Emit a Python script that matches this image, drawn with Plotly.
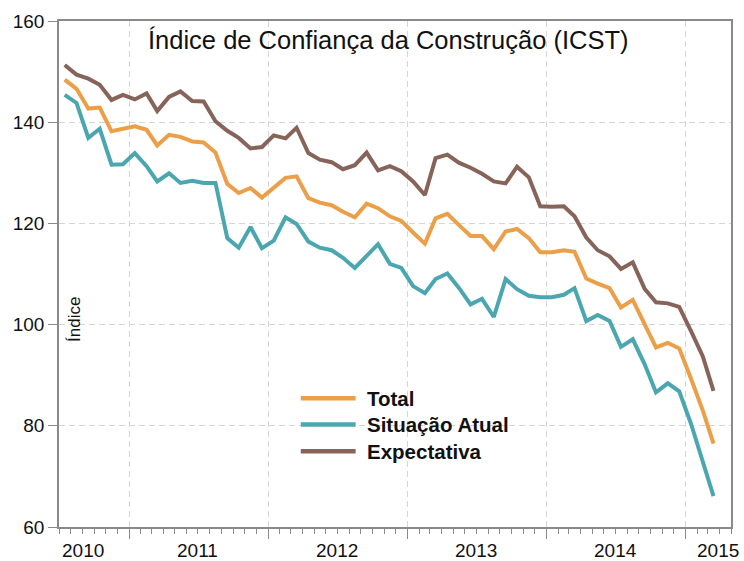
import pandas as pd
import plotly.graph_objects as go

# Monthly series, Jul 2010 .. Mar 2015
start_month = "2010-07-01"
n_months = 57

total = [148.4, 146.6, 142.7, 142.9, 138.2, 138.7, 139.2, 138.5, 135.4, 137.5,
         137.1, 136.2, 136.0, 134.0, 127.8, 126.0, 127.0, 125.1, 127.0, 129.0,
         129.3, 125.0, 124.1, 123.6, 122.3, 121.2, 123.9, 123.0, 121.4, 120.5,
         118.2, 116.0, 121.0, 121.9, 119.7, 117.5, 117.5, 114.9, 118.4, 118.9,
         117.1, 114.3, 114.3, 114.7, 114.4, 109.1, 108.1, 107.2, 103.4, 104.9,
         100.1, 95.5, 96.4, 95.3, 89.3, 83.0, 76.5]

situacao = [145.4, 143.8, 136.9, 138.7, 131.6, 131.7, 133.9, 131.3, 128.3, 129.9,
            128.0, 128.4, 128.0, 128.0, 117.1, 115.2, 119.3, 115.1, 116.6, 121.2,
            119.9, 116.4, 115.2, 114.7, 113.2, 111.2, 113.6, 115.9, 112.0, 111.2,
            107.6, 106.2, 109.0, 110.1, 107.3, 104.0, 105.1, 101.5, 109.0, 107.0,
            105.7, 105.4, 105.4, 105.9, 107.2, 100.7, 101.9, 100.7, 95.6, 97.1,
            92.2, 86.6, 88.4, 86.8, 80.4, 72.6, 66.1]

expectativa = [151.3, 149.4, 148.6, 147.4, 144.4, 145.4, 144.5, 145.7, 142.2, 145.0,
               146.1, 144.2, 144.1, 140.2, 138.3, 136.9, 134.8, 135.1, 137.4, 136.8,
               138.9, 133.9, 132.6, 132.1, 130.7, 131.5, 134.0, 130.5, 131.3, 130.3,
               128.3, 125.6, 132.9, 133.6, 132.0, 131.0, 129.8, 128.3, 127.9, 131.2,
               129.1, 123.4, 123.3, 123.4, 121.4, 117.2, 114.7, 113.5, 111.0, 112.3,
               107.1, 104.4, 104.2, 103.5, 98.7, 93.7, 86.9]

series_names = ["Total", "Situação Atual", "Expectativa"]
series_colors = ["#EB9F48", "#4BA7AF", "#87645A"]

year_labels = ["2010", "2011", "2012", "2013", "2014", "2015"]
year_label_pos = ["2010-09-02", "2011-07-01", "2012-07-01", "2013-07-01", "2014-07-01", "2015-03-27"]
year_bounds = ["2011-01-01", "2012-01-01", "2013-01-01", "2014-01-01", "2015-01-01"]

title_text = "Índice de Confiança da Construção (ICST)"
y_title = "Índice"

months = pd.date_range(start_month, periods=n_months, freq="MS") + pd.Timedelta(days=15)

FONT = "Arial, Liberation Sans, sans-serif"
fig = go.Figure()
for name, vals, col in zip(series_names, [total, situacao, expectativa], series_colors):
    fig.add_trace(go.Scatter(x=months, y=vals, mode="lines", name=name,
                             line=dict(color=col, width=4), showlegend=False))

grid = "#d6d6d6"
frame = "#8a8a8a"
fig.update_layout(
    width=744, height=561,
    margin=dict(l=59, r=11, t=19, b=34),
    paper_bgcolor="white", plot_bgcolor="white",
    font=dict(family=FONT, color="#111111"),
)
fig.update_xaxes(
    range=["2010-07-01", "2015-05-01"], type="date",
    tickmode="array", tickvals=year_bounds, showticklabels=False,
    ticks="outside", ticklen=10, tickcolor=frame, tickwidth=1,
    showgrid=True, gridcolor=grid, griddash="6px,4px", gridwidth=1,
    showline=True, linecolor=frame, linewidth=1.5, mirror=True,
    minor=dict(dtick="M1", tick0="2010-01-01", ticks="outside", ticklen=5,
               tickcolor=frame, showgrid=False),
    zeroline=False,
)
fig.update_yaxes(
    range=[60, 160], dtick=20, tick0=60,
    ticks="outside", ticklen=9, tickcolor=frame,
    tickfont=dict(size=19, family=FONT, color="#111111"),
    showgrid=True, gridcolor=grid, griddash="6px,4px", gridwidth=1,
    showline=True, linecolor=frame, linewidth=1.5, mirror=True,
    zeroline=False,
)

# year labels
for lab, pos in zip(year_labels, year_label_pos):
    fig.add_annotation(x=pos, xref="x", y=-0.046, yref="paper", text=lab,
                       showarrow=False, xanchor="center", yanchor="middle",
                       font=dict(size=19, family=FONT, color="#111111"))

# title inside plot
fig.add_annotation(x=0.491, y=0.963, xref="paper", yref="paper", text=title_text,
                   showarrow=False, xanchor="center", yanchor="middle",
                   font=dict(size=25.5, family=FONT, color="#111111"))

# y-axis title inside plot
fig.add_annotation(x=0.0229, y=0.41, xref="paper", yref="paper", text=y_title,
                   textangle=-90, showarrow=False, xanchor="center", yanchor="middle",
                   font=dict(size=17, family=FONT, color="#111111"))

# manual legend
leg_rows = [0.2542, 0.2024, 0.1498]
for name, col, yy in zip(series_names, series_colors, leg_rows):
    fig.add_shape(type="line", xref="paper", yref="paper", x0=0.3598, x1=0.4414,
                  y0=yy, y1=yy, line=dict(color=col, width=4.5))
    fig.add_annotation(x=0.4553, y=yy, xref="paper", yref="paper",
                       text="<b>" + name + "</b>", showarrow=False,
                       xanchor="left", yanchor="middle",
                       font=dict(size=20.5, family=FONT, color="#111111"))

fig.write_html("out.html", config={"displayModeBar": False},
               post_script="document.body.style.margin='0px';document.body.style.overflow='hidden';")
